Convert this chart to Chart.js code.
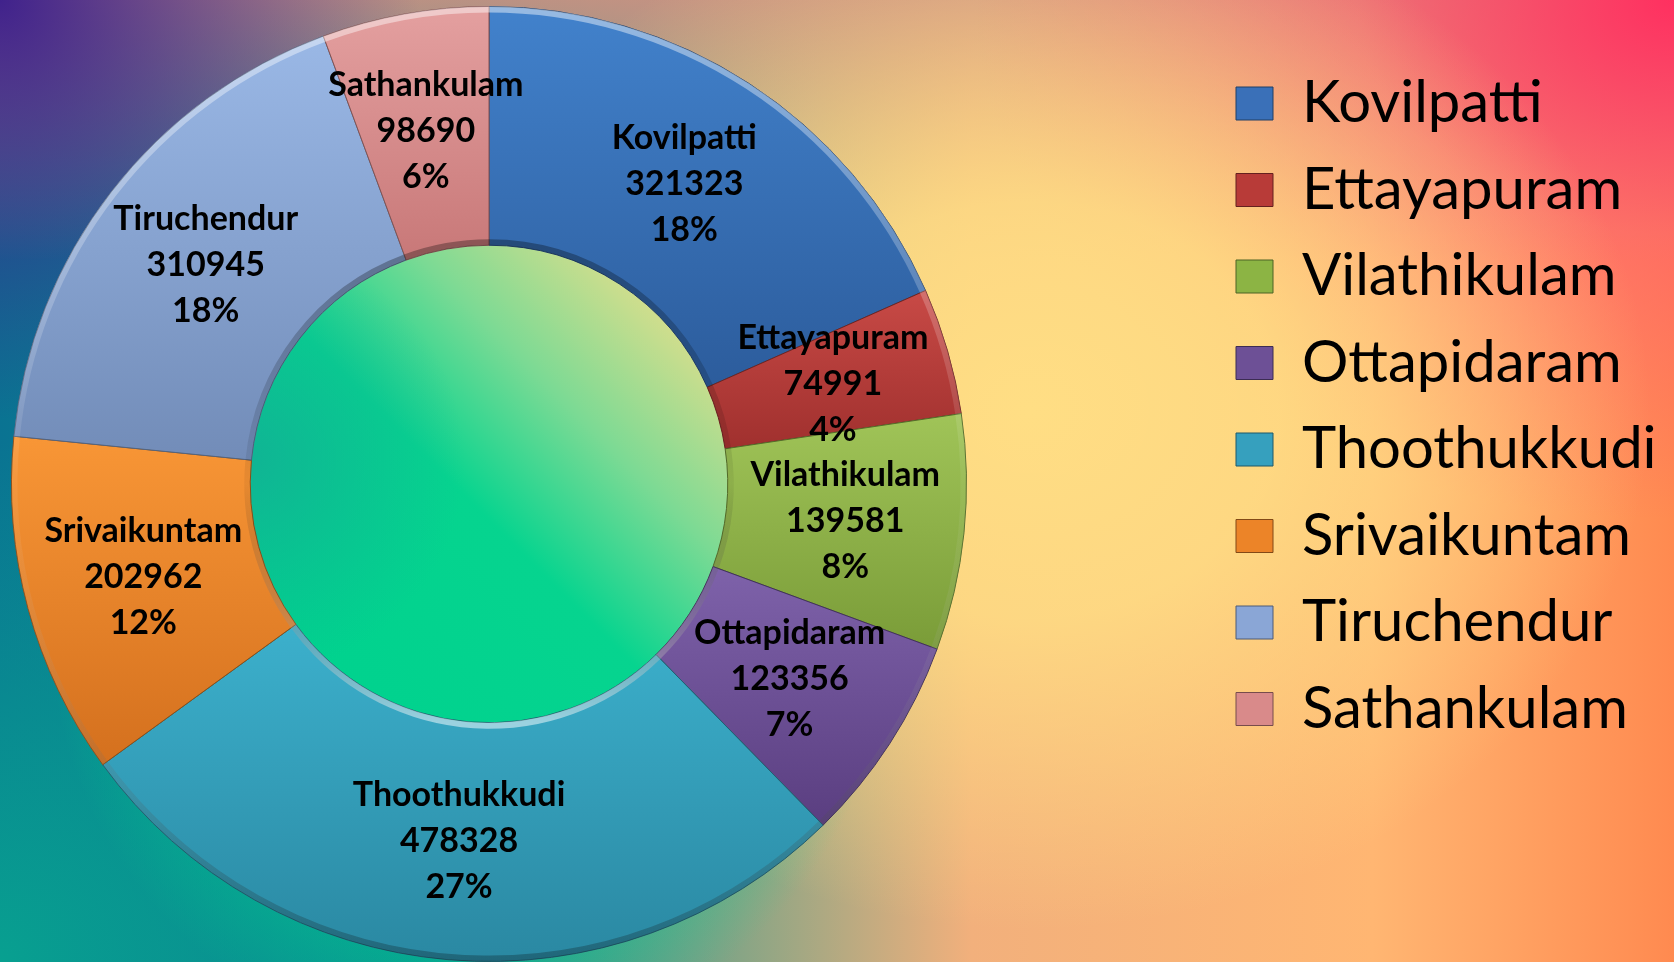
<!DOCTYPE html>
<html lang="en">
<head>
<meta charset="UTF-8">
<title>Taluk population</title>
<script src="https://cdn.jsdelivr.net/npm/chart.js"></script>
<style>
  html, body { margin: 0; padding: 0; width: 1674px; height: 962px; overflow: hidden; }
  body {
    position: relative;
    background:
      radial-gradient(circle at 470px 630px, rgba(0,212,144,1) 0px, rgba(0,212,144,0.95) 150px, rgba(0,212,144,0) 420px),
      radial-gradient(ellipse 620px 520px at 1030px 410px, rgba(255,222,132,1) 0%, rgba(255,222,132,0.85) 40%, rgba(255,222,132,0) 100%),
      radial-gradient(circle at 0px 0px, rgba(64,34,140,1) 0px, rgba(64,34,140,0) 420px),
      radial-gradient(ellipse 700px 520px at 1674px 0px, rgba(255,48,96,1) 0%, rgba(255,90,110,0.6) 45%, rgba(255,90,110,0) 100%),
      radial-gradient(ellipse 520px 520px at 0px 962px, rgba(8,160,144,1) 0%, rgba(8,160,144,0) 100%),
      linear-gradient(to bottom, rgba(205,145,130,0.9) 0px, rgba(205,145,130,0) 260px),
      linear-gradient(to right, #0a7392 0%, #0a9890 28%, #f2b07c 58%, #ffb672 82%, #ff8a50 100%);
  }
  #wrap { position: absolute; left: -235px; top: 0; width: 1909px; height: 962px; }
</style>
</head>
<body>
<div id="wrap"><canvas id="talukChart" width="1909" height="962"></canvas></div>

<script>
const taluks = ['Kovilpatti', 'Ettayapuram', 'Vilathikulam', 'Ottapidaram', 'Thoothukkudi', 'Srivaikuntam', 'Tiruchendur', 'Sathankulam'];
const population = [321323, 74991, 139581, 123356, 478328, 202962, 310945, 98690];

// slice colours: flat (legend), top and bottom of each slice's own gradient
const sliceColors  = ['#3a70b8', '#b83b38', '#8cb444', '#6d5096', '#36a0be', '#ec8428', '#8aa6d6', '#d98a8a'];
const sliceTop     = ['#4282cc', '#c84a46', '#a0c458', '#7e62aa', '#3cb0cc', '#f89636', '#9ab8e6', '#e4a0a0'];
const sliceBottom  = ['#2c5c9c', '#a0302e', '#7a9c38', '#5a3e80', '#2a88a2', '#d4701e', '#728cb8', '#c87878'];

function shade(hex, f) {
    const n = parseInt(hex.slice(1), 16);
    let r = n >> 16, g = (n >> 8) & 255, b = n & 255;
    const t = f < 0 ? 0 : 255, p = Math.abs(f);
    r = Math.round(r + (t - r) * p);
    g = Math.round(g + (t - g) * p);
    b = Math.round(b + (t - b) * p);
    return 'rgb(' + r + ',' + g + ',' + b + ')';
}

const total = population.reduce((a, b) => a + b, 0);

// legend sizing: box starts at x=1236 on the page, chart area ends where the legend begins
const legendFont = { family: 'Lato', size: 58 };
const legendPad = 28.5, legendBoxW = 37;
const canvasW = 1909, pageShift = 235;
const measure = document.createElement('canvas').getContext('2d');
measure.font = legendFont.size + 'px ' + legendFont.family;
const longest = Math.max(...taluks.map(t => measure.measureText(t).width));
const legendW = Math.ceil(legendPad + legendBoxW + legendFont.size / 2 + longest + 4);
const legendLeft = 1236 - legendPad + pageShift;
const rightPad = canvasW - legendLeft - legendW;
const leftPad = 2 * (489 + pageShift) - legendLeft;   // keeps the ring centred at x=489

// vertical extent of slice i (annular sector), from the chart area
function sliceExtent(area, i) {
    const cx = (area.left + area.right) / 2, cy = (area.top + area.bottom) / 2;
    const R = Math.min(area.width, area.height) / 2, r = R * 0.5;
    const before = population.slice(0, i).reduce((a, b) => a + b, 0);
    const a0 = -Math.PI / 2 + 2 * Math.PI * before / total;
    const a1 = a0 + 2 * Math.PI * population[i] / total;
    const ys = [a0, a1].flatMap(a => [cy + Math.sin(a) * R, cy + Math.sin(a) * r]);
    for (const k of [-Math.PI / 2, Math.PI / 2, 3 * Math.PI / 2]) {
        if (k > a0 && k < a1) ys.push(cy + Math.sin(k) * R);
    }
    return [Math.min(...ys), Math.max(...ys)];
}

// fill the hole of the ring, greenish lower left to yellowish upper right
const holeFill = {
    id: 'holeFill',
    beforeDatasetsDraw(chart) {
        const arc = chart.getDatasetMeta(0).data[0];
        if (!arc) return;
        const {x, y, innerRadius} = arc.getProps(['x', 'y', 'innerRadius'], true);
        const ctx = chart.ctx, r = innerRadius + 2;
        ctx.save();
        ctx.beginPath();
        ctx.arc(x, y, r, 0, 2 * Math.PI);
        let g = ctx.createLinearGradient(x - r * 0.75, y + r * 0.75, x + r * 0.75, y - r * 0.75);
        g.addColorStop(0, '#00d28e');
        g.addColorStop(0.45, '#06d48f');
        g.addColorStop(0.72, '#7cda94');
        g.addColorStop(1, '#dade8c');
        ctx.fillStyle = g;
        ctx.fill();
        g = ctx.createRadialGradient(x - r, y - r * 0.1, 0, x - r, y - r * 0.1, r * 0.9);
        g.addColorStop(0, 'rgba(20,170,150,0.75)');
        g.addColorStop(1, 'rgba(20,170,150,0)');
        ctx.fillStyle = g;
        ctx.fill();
        ctx.restore();
    }
};

// light from the top: outer rim lit on top, inner rim lit at the bottom
const bevel = {
    id: 'bevel',
    afterDatasetsDraw(chart) {
        const ctx = chart.ctx;
        const arcs = chart.getDatasetMeta(0).data;
        arcs.forEach(arc => {
            const {x, y, startAngle, endAngle, innerRadius, outerRadius} = arc.getProps(['x', 'y', 'startAngle', 'endAngle', 'innerRadius', 'outerRadius'], true);
            ctx.save();
            let g = ctx.createLinearGradient(0, y - outerRadius, 0, y + outerRadius);
            g.addColorStop(0, 'rgba(255,255,255,0.45)');
            g.addColorStop(0.5, 'rgba(255,255,255,0.05)');
            g.addColorStop(1, 'rgba(0,0,0,0.25)');
            ctx.strokeStyle = g;
            ctx.lineWidth = 6;
            ctx.beginPath();
            ctx.arc(x, y, outerRadius - 3, startAngle, endAngle);
            ctx.stroke();

            g = ctx.createLinearGradient(0, y - innerRadius, 0, y + innerRadius);
            g.addColorStop(0, 'rgba(0,0,0,0.3)');
            g.addColorStop(0.5, 'rgba(0,0,0,0.05)');
            g.addColorStop(1, 'rgba(255,255,255,0.5)');
            ctx.strokeStyle = g;
            ctx.beginPath();
            ctx.arc(x, y, innerRadius + 3, startAngle, endAngle);
            ctx.stroke();
            ctx.restore();
        });
    }
};

// name / value / percent in the middle of every slice
const sliceLabels = {
    id: 'sliceLabels',
    afterDatasetsDraw(chart) {
        const ctx = chart.ctx;
        const arcs = chart.getDatasetMeta(0).data;
        ctx.save();
        ctx.fillStyle = '#000';
        ctx.font = 'bold 34px Lato, "DejaVu Sans", sans-serif';
        ctx.textAlign = 'center';
        ctx.textBaseline = 'middle';
        arcs.forEach((arc, i) => {
            const p = arc.getCenterPoint(true);
            const pct = Math.round(population[i] / total * 100) + '%';
            ctx.fillText(taluks[i], p.x, p.y - 46);
            ctx.fillText(String(population[i]), p.x, p.y);
            ctx.fillText(pct, p.x, p.y + 46);
        });
        ctx.restore();
    }
};

const ctx = document.getElementById('talukChart').getContext('2d');
new Chart(ctx, {
    type: 'doughnut',
    data: {
        labels: taluks,
        datasets: [{
            data: population,
            backgroundColor: (c) => {
                const i = c.dataIndex;
                const area = c.chart.chartArea;
                if (!area) return sliceColors[i];
                const [y0, y1] = sliceExtent(area, i);
                const g = c.chart.ctx.createLinearGradient(0, y0, 0, y1);
                g.addColorStop(0, sliceTop[i]);
                g.addColorStop(1, sliceBottom[i]);
                return g;
            },
            borderColor: sliceColors.map(c => shade(c, -0.4)),
            borderWidth: 1,
            hoverOffset: 0
        }]
    },
    options: {
        responsive: false,
        animation: false,
        cutout: '50%',
        layout: { padding: { top: 6, left: leftPad, right: rightPad, bottom: 0 } },
        plugins: {
            tooltip: { enabled: false },
            legend: {
                position: 'right',
                align: 'start',
                maxWidth: legendW,
                title: { display: true, text: '', padding: 12.8, font: { size: 12 } },
                labels: {
                    boxWidth: legendBoxW,
                    boxHeight: 33,
                    padding: legendPad,
                    color: '#000',
                    font: legendFont,
                    generateLabels: () => taluks.map((t, i) => ({
                        text: t,
                        fillStyle: sliceColors[i],
                        strokeStyle: shade(sliceColors[i], -0.45),
                        fontColor: '#000',
                        lineWidth: 1,
                        hidden: false,
                        index: i
                    }))
                }
            }
        }
    },
    plugins: [holeFill, bevel, sliceLabels]
});
</script>
</body>
</html>
